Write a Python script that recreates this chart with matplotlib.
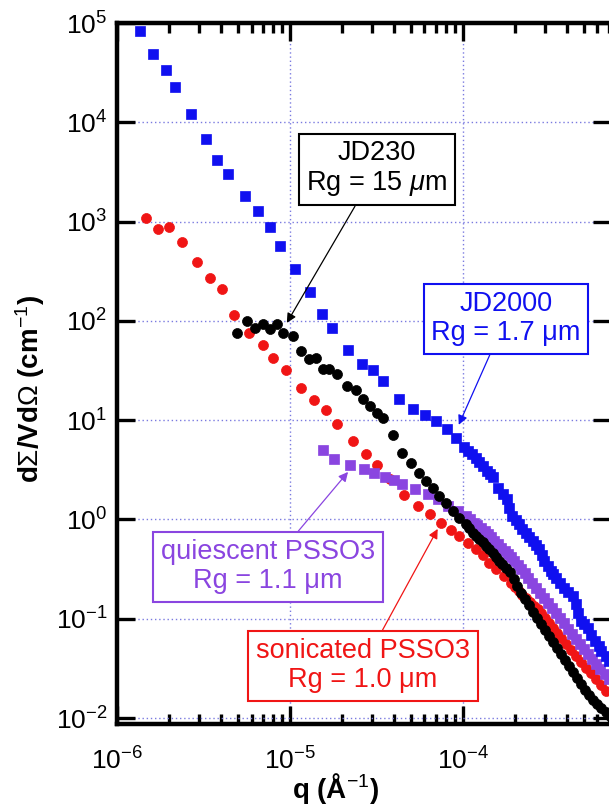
import numpy as np
import matplotlib
matplotlib.use("Agg")
import matplotlib.pyplot as plt

plt.rcParams['font.family'] = ['Liberation Sans', 'DejaVu Sans']
plt.rcParams['mathtext.fontset'] = 'custom'
plt.rcParams['mathtext.rm'] = 'Liberation Sans'
plt.rcParams['mathtext.it'] = 'Liberation Sans:italic'
plt.rcParams['mathtext.bf'] = 'Liberation Sans:bold'

# JD2000 (blue squares)
q_jd2000 = [1.36e-6, 1.62e-6, 1.93e-6, 2.17e-6, 2.69e-6, 3.29e-6, 3.81e-6, 4.36e-6,
            5.47e-6, 6.52e-6, 7.65e-6, 8.75e-6, 1.07e-5, 1.31e-5, 1.53e-5, 1.75e-5,
            2.17e-5, 2.62e-5, 3.04e-5, 3.47e-5, 4.30e-5, 5.12e-5, 6.01e-5, 6.97e-5,
            8.07e-5, 9.10e-5, 1.01e-4, 1.069e-4, 1.13e-4, 1.19e-4, 1.24e-4, 1.307e-4,
            1.38e-4, 1.436e-4, 1.49e-4, 1.60e-4, 1.71e-4, 1.80e-4, 1.851e-4, 1.93e-4,
            2.033e-4, 2.12e-4, 2.203e-4, 2.32e-4, 2.42e-4, 2.55e-4, 2.657e-4, 2.77e-4,
            2.879e-4, 2.96e-4, 3.121e-4, 3.25e-4, 3.337e-4, 3.48e-4, 3.664e-4, 3.87e-4,
            4.078e-4, 4.36e-4, 4.539e-4, 4.67e-4, 4.86e-4, 5.05e-4, 5.33e-4, 5.548e-4,
            5.78e-4, 6.096e-4, 6.34e-4, 6.693e-4, 6.97e-4]
i_jd2000 = [8.3e4, 4.9e4, 3.37e4, 2.28e4, 1.22e4, 6.8e3, 4.18e3, 3.02e3,
            1.82e3, 1.28e3, 885, 569, 334, 196, 117, 85,
            51, 36.9, 32.1, 24.9, 16.4, 13.0, 11.3, 9.84,
            8.17, 6.63, 5.39, 4.91, 4.58, 4.17, 3.80, 3.47,
            3.09, 2.88, 2.69, 2.08, 1.81, 1.61, 1.31, 1.09,
            0.991, 0.903, 0.804, 0.733, 0.668, 0.608, 0.555, 0.506,
            0.440, 0.383, 0.341, 0.303, 0.283, 0.258, 0.230, 0.205,
            0.187, 0.170, 0.141, 0.115, 0.0953, 0.0888, 0.0809, 0.0689,
            0.0599, 0.0533, 0.0475, 0.0423, 0.0377]

# sonicated PSSO3 (red circles)
q_son = [1.47e-6, 1.73e-6, 2.01e-6, 2.39e-6, 2.92e-6, 3.43e-6, 4.03e-6, 4.72e-6,
         5.78e-6, 6.97e-6, 7.96e-6, 9.48e-6, 1.16e-5, 1.38e-5, 1.62e-5, 1.88e-5,
         2.32e-5, 2.77e-5, 3.20e-5, 3.81e-5, 4.60e-5, 5.48e-5, 6.43e-5, 7.45e-5,
         8.51e-5, 9.48e-5, 1.07e-4, 1.19e-4, 1.31e-4, 1.42e-4, 1.56e-4, 1.73e-4,
         1.90e-4, 2.006e-4, 2.12e-4, 2.203e-4, 2.32e-4, 2.453e-4, 2.59e-4, 2.729e-4,
         2.84e-4, 2.998e-4, 3.16e-4, 3.337e-4, 3.52e-4, 3.714e-4, 3.97e-4, 4.246e-4,
         4.54e-4, 4.853e-4, 5.19e-4, 5.548e-4, 5.93e-4, 6.343e-4, 6.78e-4]
i_son = [1089, 844, 885, 625, 393, 271, 210, 115,
         75.7, 57.3, 42.4, 32.1, 21.2, 16.0, 12.7, 9.18,
         6.19, 4.58, 3.55, 2.56, 1.77, 1.37, 1.14, 0.924,
         0.785, 0.684, 0.581, 0.506, 0.440, 0.366, 0.318, 0.270,
         0.230, 0.210, 0.191, 0.174, 0.162, 0.148, 0.135, 0.126,
         0.115, 0.102, 0.0910, 0.0810, 0.0721, 0.0642, 0.0558, 0.0486,
         0.0423, 0.0368, 0.0321, 0.0285, 0.0248, 0.0216, 0.0188]

# quiescent PSSO3 (purple squares)
q_qui = [1.56e-5, 1.80e-5, 2.23e-5, 2.69e-5, 3.08e-5, 3.57e-5, 4.02e-5, 4.48e-5,
         5.26e-5, 6.26e-5, 7.16e-5, 8.19e-5, 9.36e-5, 1.04e-4, 1.098e-4, 1.16e-4,
         1.206e-4, 1.27e-4, 1.343e-4, 1.40e-4, 1.455e-4, 1.51e-4, 1.598e-4, 1.66e-4,
         1.755e-4, 1.83e-4, 1.901e-4, 1.98e-4, 2.088e-4, 2.17e-4, 2.294e-4, 2.39e-4,
         2.519e-4, 2.66e-4, 2.803e-4, 2.96e-4, 3.121e-4, 3.29e-4, 3.473e-4, 3.66e-4,
         3.866e-4, 4.08e-4, 4.302e-4, 4.54e-4, 4.788e-4, 5.05e-4, 5.329e-4, 5.62e-4,
         5.932e-4, 6.26e-4, 6.603e-4, 6.97e-4]
i_qui = [5.02, 4.08, 3.55, 3.23, 2.95, 2.69, 2.50, 2.28,
         2.03, 1.81, 1.61, 1.37, 1.22, 1.09, 1.014, 0.924,
         0.882, 0.823, 0.768, 0.716, 0.668, 0.608, 0.568, 0.518,
         0.483, 0.451, 0.420, 0.383, 0.349, 0.318, 0.290, 0.258,
         0.230, 0.205, 0.182, 0.162, 0.145, 0.129, 0.115, 0.102,
         0.0909, 0.0791, 0.0705, 0.0628, 0.0559, 0.0498, 0.0443, 0.0394,
         0.0351, 0.0313, 0.0279, 0.0248]

# JD230 (black circles)
q_jd230 = [4.92e-6, 5.62e-6, 6.26e-6, 6.97e-6, 7.65e-6, 8.40e-6, 9.11e-6, 1.04e-5,
           1.16e-5, 1.29e-5, 1.42e-5, 1.56e-5, 1.69e-5, 1.88e-5, 2.14e-5, 2.42e-5,
           2.66e-5, 2.92e-5, 3.20e-5, 3.47e-5, 3.97e-5, 4.48e-5, 4.99e-5, 5.55e-5,
           6.09e-5, 6.69e-5, 7.25e-5, 7.96e-5, 8.75e-5, 9.48e-5, 1.04e-4, 1.084e-4,
           1.14e-4, 1.19e-4, 1.24e-4, 1.307e-4, 1.36e-4, 1.417e-4, 1.49e-4, 1.556e-4,
           1.62e-4, 1.686e-4, 1.778e-4, 1.877e-4, 1.980e-4, 2.061e-4, 2.174e-4, 2.294e-4,
           2.420e-4, 2.553e-4, 2.693e-4, 2.841e-4, 2.998e-4, 3.162e-4, 3.337e-4, 3.520e-4,
           3.714e-4, 3.918e-4, 4.133e-4, 4.361e-4, 4.601e-4, 4.853e-4, 5.121e-4, 5.403e-4,
           5.699e-4, 6.012e-4, 6.343e-4, 6.693e-4, 7.061e-4]
i_jd230 = [75.7, 100, 85, 93, 83, 93, 75.7, 70.6,
           49.9, 41.4, 42.4, 32.9, 32.9, 29.3, 22.1, 20.2,
           16.4, 13.9, 11.9, 10.5, 7.11, 4.69, 3.72, 2.95,
           2.45, 2.08, 1.73, 1.47, 1.22, 1.04, 0.903, 0.823,
           0.733, 0.684, 0.638, 0.595, 0.542, 0.506, 0.461, 0.420,
           0.383, 0.357, 0.326, 0.297, 0.252, 0.214, 0.182, 0.159,
           0.138, 0.117, 0.102, 0.0888, 0.0773, 0.0673, 0.0585, 0.0509,
           0.0443, 0.0386, 0.0335, 0.0292, 0.0254, 0.0221, 0.0192, 0.0171,
           0.0153, 0.0139, 0.0127, 0.0115, 0.0105]

blue = '#1010f0'
red = '#f01515'
purple = '#8a45e0'

fig = plt.figure(figsize=(6.09, 8.09), dpi=100)
ax = fig.add_axes([117 / 609, 1 - 724 / 809, 494 / 609, 701 / 809])

ax.plot(q_son, i_son, 'o', color=red, ms=7.2, mec=red, mew=0.5)
ax.plot(q_qui, i_qui, 's', color=purple, ms=6.8, mec=purple, mew=0.5)
ax.plot(q_jd2000, i_jd2000, 's', color=blue, ms=6.8, mec=blue, mew=0.5)
ax.plot(q_jd230, i_jd230, 'o', color='black', ms=7.2, mec='black', mew=0.5)

ax.set_xscale('log')
ax.set_yscale('log')
ax.set_xlim(1e-6, 7.2e-4)
ax.set_ylim(10 ** -2.06, 1e5)
ax.yaxis.set_major_locator(matplotlib.ticker.LogLocator(base=10, numticks=10))
ax.yaxis.set_minor_locator(matplotlib.ticker.NullLocator())
ax.xaxis.set_minor_formatter(matplotlib.ticker.NullFormatter())

ax.grid(True, which='major', color='#7a7ae0', linestyle=(0, (1, 2)), linewidth=1)
for s in ax.spines.values():
    s.set_linewidth(3.2)
ax.tick_params(which='both', direction='in', top=True, right=True, labelsize=19, width=2.4)
ax.tick_params(which='major', length=13)
ax.tick_params(which='minor', length=7)
ax.tick_params(axis='x', which='major', pad=17)
ax.tick_params(axis='y', which='major', pad=7)

fig.text(30 / 609, 1 - 389 / 809, r'd$\Sigma$/Vd$\Omega$ (cm$^{-1}$)', rotation=90,
         ha='center', va='center', fontsize=20, fontweight='bold')
fig.text(335 / 609, 1 - 788 / 809, r'q (Å$^{-1}$)', ha='center', va='center',
         fontsize=20, fontweight='bold')

def label(txt, color, xy, xytext):
    ax.annotate(txt, xy=xy, xytext=xytext, textcoords='axes fraction',
                ha='center', va='center', fontsize=19.5, color=color,
                multialignment='center', linespacing=1.15,
                bbox=dict(boxstyle='square,pad=0.28', fc='white', ec=color, lw=1.5),
                arrowprops=dict(arrowstyle='-|>', color=color, lw=0.9,
                                mutation_scale=14, shrinkA=0, shrinkB=0))

label('JD230\nRg = 15 $\\mu$m', 'black', (9.6e-6, 95.5), (0.526, 0.792))
label('JD2000\nRg = 1.7 μm', blue, (9.48e-5, 8.98), (0.787, 0.578))
label('quiescent PSSO3\nRg = 1.1 μm', purple, (2.17e-5, 3.01), (0.306, 0.224))
label('sonicated PSSO3\nRg = 1.0 μm', red, (7.16e-5, 0.803), (0.498, 0.083))

fig.savefig('out.png', dpi=100)
